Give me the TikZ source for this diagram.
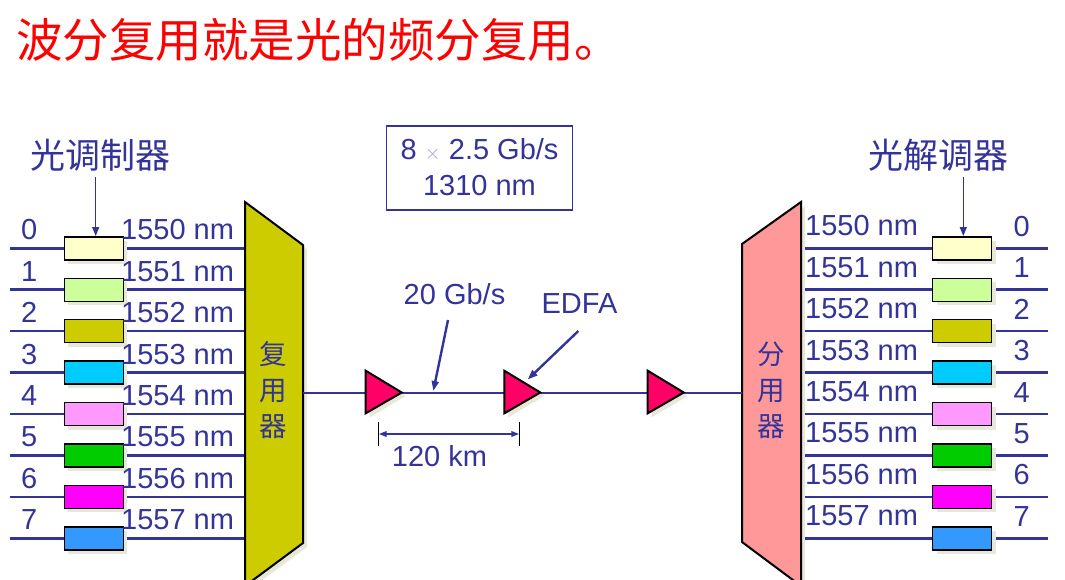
\documentclass[tikz,border=0pt]{standalone}
\usepackage{fontspec}
\setmainfont{Liberation Sans}
\newfontfamily\cjk{Noto Sans CJK SC}
\usetikzlibrary{arrows.meta}
\definecolor{ink}{HTML}{333399}
\definecolor{shad}{HTML}{E8E8DA}
\definecolor{muxc}{HTML}{CCCC00}
\definecolor{demuxc}{HTML}{FF9999}
\definecolor{ampc}{HTML}{FF0066}
\definecolor{titlered}{HTML}{FF0000}
\definecolor{cA}{HTML}{FFFFCC}
\definecolor{cB}{HTML}{CCFF99}
\definecolor{cC}{HTML}{CCCC00}
\definecolor{cD}{HTML}{00CCFF}
\definecolor{cE}{HTML}{FF99FF}
\definecolor{cF}{HTML}{00CC00}
\definecolor{cG}{HTML}{FF00FF}
\definecolor{cH}{HTML}{3399FF}
\tikzset{
  wire/.style={ink, line width=2.6pt},
  modbox/.style={draw=black, line width=1.4pt, minimum width=59pt, minimum height=23pt, inner sep=0pt},
  boxshadow/.style={fill=shad, draw=none, minimum width=59pt, minimum height=23pt, inner sep=0pt},
  lbl/.style={text=ink, inner sep=0pt, font=\fontsize{29}{34}\selectfont},
  cjklbl/.style={text=ink, inner sep=0pt, font=\cjk\fontsize{35}{40}\selectfont},
  vlbl/.style={text=ink, inner sep=0pt, align=center, font=\cjk\fontsize{27.5}{36}\selectfont},
  thinarrow/.style={ink, line width=1.3pt, -{Triangle[length=9pt,width=7pt]}},
  callout/.style={ink, line width=2.4pt, -{Triangle[length=10pt,width=7pt]}},
  amp/.style={draw=black, line width=2pt, fill=ampc, line join=miter},
}
\begin{document}
\begin{tikzpicture}[x=1pt,y=-1pt]
\useasboundingbox (0,0) rectangle (1065,579);

% title
\node[anchor=west, inner sep=0pt, text=titlered, font=\cjk\fontsize{46.5}{50}\selectfont] (title) at (16,40) {波分复用就是光的频分复用。};

% top labels and arrows
\node[cjklbl] (modlbl) at (100,155) {光调制器};
\node[cjklbl] (demlbl) at (938,155) {光解调器};
\coordinate (modarrS) at (95.7,177);
\coordinate (modarrE) at (95.7,236);
\coordinate (demarrS) at (963.3,177);
\coordinate (demarrE) at (963.3,236);

% shadows of multiplexers
\fill[shad] (249,206) -- (307,249) -- (307,547) -- (249,590) -- cycle;
\fill[shad] (805,206) -- (746,248) -- (746,546) -- (805,590) -- cycle;

% channel lines
\foreach \i/\c in {0/cA,1/cB,2/cC,3/cD,4/cE,5/cF,6/cG,7/cH}{
  \pgfmathsetmacro\yy{248.3+41.43*\i}
  \coordinate (lin\i) at (10,\yy);
  \coordinate (muxin\i) at (245,\yy);
  \coordinate (demout\i) at (805,\yy);
  \coordinate (rout\i) at (1048,\yy);
  \draw[wire] (lin\i) -- (muxin\i);
  \draw[wire] (demout\i) -- (rout\i);
  \node[boxshadow] at (97.7,{\yy+4}) {};
  \node[boxshadow] at (966,{\yy+4}) {};
  \node[modbox, fill=\c] (mod\i) at (93.7,\yy) {};
  \node[modbox, fill=\c] (dem\i) at (962,\yy) {};
  \node[lbl, anchor=base] (ln\i) at (29.3,{\yy-8.5}) {\i};
  \node[lbl, anchor=base] (rn\i) at (1021.7,{\yy-12}) {\i};
  \pgfmathtruncatemacro\wl{1550+\i}
  \node[lbl, anchor=base west] (lw\i) at (121,{\yy-8.5}) {\wl\ nm};
  \node[lbl, anchor=base west] (rw\i) at (805,{\yy-12.5}) {\wl\ nm};
}

\draw[thinarrow] (modarrS) -- (modarrE);
\draw[thinarrow] (demarrS) -- (demarrE);

% multiplexer and demultiplexer
\draw[black, line width=2pt, fill=muxc, line join=miter] (245,202) -- (303,245) -- (303,543) -- (245,586) -- cycle;
\draw[black, line width=2pt, fill=demuxc, line join=miter] (801,202) -- (742,244) -- (742,542) -- (801,586) -- cycle;
\node[vlbl] (muxt) at (273,390) {复\\用\\器};
\node[vlbl] (demt) at (771,390) {分\\用\\器};

% main fibre line
\coordinate (muxout) at (303,393);
\coordinate (demin) at (742,393);
\draw[wire] (muxout) -- (demin);

% amplifiers
\foreach \L/\n in {365.7/a1,504.3/a2,647.7/a3}{
  \fill[shad] (\L+4,374.7) -- (\L+4,417.3) -- (\L+40,396) -- cycle;
  \draw[amp] (\L,370.7) -- (\L,413.3) -- (\L+36,392.5) -- cycle;
  \coordinate (\n) at (\L+18,392.5);
}

% rate box
\node[draw=ink, line width=1.3pt, minimum width=186pt, minimum height=84pt, inner sep=0pt] (ratebox) at (479.5,168) {};
\node[lbl] (rate1) at (479.5,150) {8 {\fontsize{20}{20}\selectfont\color{ink!45}$\times$} 2.5 Gb/s};
\node[lbl] (rate2) at (479.5,186) {1310 nm};

% callouts
\node[lbl] (gbs) at (454.5,294) {20 Gb/s};
\node[lbl] (edfa) at (579.5,304) {EDFA};
\coordinate (gbsS) at (448,320);
\coordinate (gbsE) at (433.3,391);
\coordinate (edfaS) at (578.3,331);
\coordinate (edfaE) at (527.7,379.5);
\draw[callout] (gbsS) -- (gbsE);
\draw[callout] (edfaS) -- (edfaE);

% dimension
\coordinate (dimL) at (378.7,434);
\coordinate (dimR) at (519.3,434);
\draw[black, line width=1pt] (378.7,421.7) -- (378.7,446);
\draw[black, line width=1pt] (519.3,421.7) -- (519.3,446);
\draw[ink, line width=2pt, {Triangle[length=8pt,width=5.5pt]}-{Triangle[length=8pt,width=5.5pt]}] (dimL) -- (dimR);
\node[lbl] (km) at (439.5,456) {120 km};
\end{tikzpicture}
\end{document}
